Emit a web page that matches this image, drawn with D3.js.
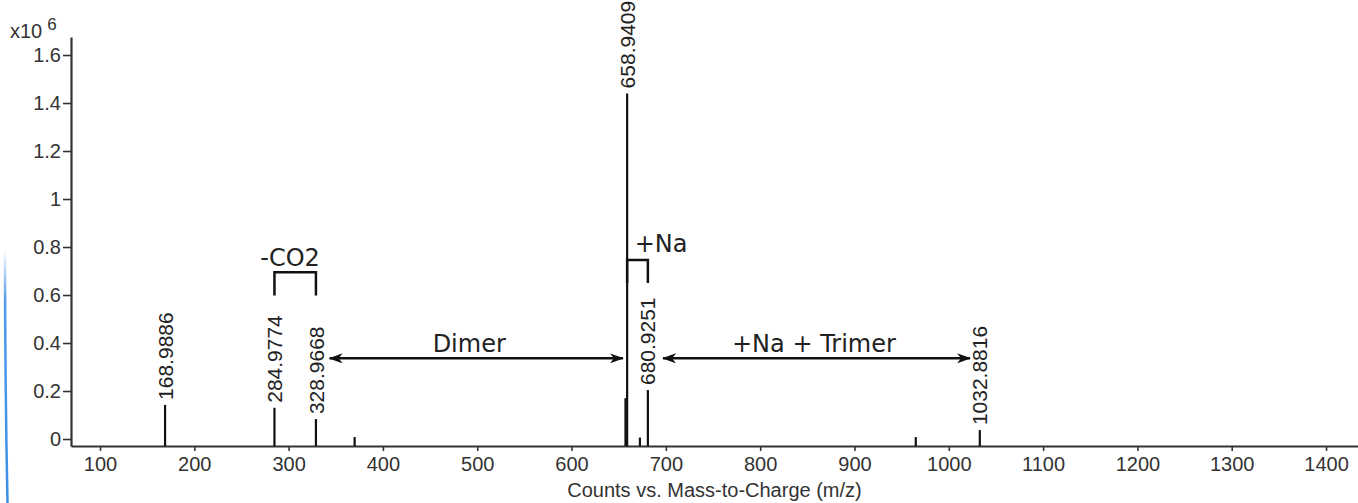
<!DOCTYPE html>
<html>
<head>
<meta charset="utf-8">
<script src="https://cdn.jsdelivr.net/npm/d3@7"></script>
<style>
  body { margin: 0; background: #fff; }
  svg { display: block; }
  .axis text { font-family: "Liberation Sans", Arial, sans-serif; font-size: 20px; fill: #333; }
  .axis path, .axis line { stroke: #333; }
  .peakLabel { font-family: "Liberation Sans", Arial, sans-serif; font-size: 21px; fill: #222; }
  .note { font-family: "DejaVu Sans", sans-serif; font-size: 24px; fill: #222; }
</style>
</head>
<body>
<div class="chart"></div>
<script>
// peaks (m/z, counts x10^6)
const peakMz = [168.9886, 284.9774, 328.9668, 370, 657.2, 658.9409, 672.5, 680.9251, 965, 1032.8816];
const peakCounts = [0.142, 0.13, 0.083, 0.008, 0.17, 1.44, 0.006, 0.204, 0.008, 0.037];
const peakNames = ["168.9886", "284.9774", "328.9668", "", "", "658.9409", "", "680.9251", "", "1032.8816"];

const xTicks = [100, 200, 300, 400, 500, 600, 700, 800, 900, 1000, 1100, 1200, 1300, 1400];
const yTicks = [0, 0.2, 0.4, 0.6, 0.8, 1, 1.2, 1.4, 1.6];

// annotations
const bracketNames = ["-CO2", "+Na"];
const bracketFrom = [284.9774, 658.9409];
const bracketTo = [328.9668, 680.9251];
const bracketTop = [0.695, 0.746];
const bracketLeg = [0.598, 0.65];
const bracketText = [[301.5, 0.72], [695, 0.78]];

const arrowNames = ["Dimer", "+Na + Trimer"];
const arrowFrom = [343.5, 697];
const arrowTo = [654.5, 1022.5];
const arrowLevel = 0.336;
const arrowTextMz = [491.5, 857];

const width = 1358, height = 503;

const svg = d3.select(".chart").append("svg")
  .attr("width", width)
  .attr("height", height);

const xScale = d3.scaleLinear()
  .domain([69.25, 1433.9])
  .range([71, 1358]);

const yScale = d3.scaleLinear()
  .domain([-0.02917, 1.675])
  .range([446, 37]);

const base = yScale.range()[0];

// stray blue edge on the left of the screenshot
const grad = svg.append("defs").append("linearGradient")
  .attr("id", "fade").attr("x1", 0).attr("y1", 0).attr("x2", 0).attr("y2", 1);
grad.append("stop").attr("offset", "0%").attr("stop-color", "#3b8fe8").attr("stop-opacity", 0);
grad.append("stop").attr("offset", "20%").attr("stop-color", "#3b8fe8").attr("stop-opacity", 0.9);
grad.append("stop").attr("offset", "100%").attr("stop-color", "#3b8fe8").attr("stop-opacity", 1);
svg.append("path")
  .attr("d", "M5,250 C5,350 6,430 7.5,503")
  .attr("fill", "none")
  .attr("stroke", "url(#fade)")
  .attr("stroke-width", 2.5);

svg.select("defs").append("marker")
  .attr("id", "head")
  .attr("viewBox", "0 0 14 10")
  .attr("refX", 13).attr("refY", 5)
  .attr("markerWidth", 14).attr("markerHeight", 10)
  .attr("markerUnits", "userSpaceOnUse")
  .attr("orient", "auto-start-reverse")
  .append("path")
  .attr("d", "M0,0 L14,5 L0,10 L4,5 Z")
  .attr("fill", "#111");

// axes
const xAxis = d3.axisBottom(xScale)
  .tickValues(xTicks)
  .tickSize(5)
  .tickSizeOuter(0)
  .tickPadding(6)
  .tickFormat(d3.format("d"));

const yAxis = d3.axisLeft(yScale)
  .tickValues(yTicks)
  .tickSize(8)
  .tickSizeOuter(0)
  .tickPadding(2)
  .tickFormat(d3.format("~g"));

svg.append("g")
  .attr("class", "axis xAxis")
  .attr("transform", "translate(0," + base + ")")
  .call(xAxis)
  .call(g => g.select(".domain").attr("stroke-width", 2.2));

svg.append("g")
  .attr("class", "axis yAxis")
  .attr("transform", "translate(" + xScale.range()[0] + ",0)")
  .call(yAxis)
  .call(g => g.select(".domain").attr("stroke-width", 2.2));

svg.selectAll(".axis .tick line").attr("stroke-width", 1.6);

// axis title and multiplier
svg.append("text")
  .attr("x", (xScale.range()[0] + xScale.range()[1]) / 2)
  .attr("y", 497)
  .attr("text-anchor", "middle")
  .style("font-family", "Liberation Sans, Arial, sans-serif")
  .style("font-size", "20px")
  .style("fill", "#333")
  .text("Counts vs. Mass-to-Charge (m/z)");

const mult = svg.append("text")
  .attr("x", 10)
  .attr("y", 38)
  .style("font-family", "Liberation Sans, Arial, sans-serif")
  .style("font-size", "20px")
  .style("fill", "#333");
mult.append("tspan").text("x10");
mult.append("tspan").attr("dx", 5).attr("dy", -8).style("font-size", "17px").text("6");

// peaks
const peaks = peakMz.map((mz, i) => ({ mz: mz, count: peakCounts[i], name: peakNames[i] }));

svg.selectAll(".peak")
  .data(peaks)
  .enter()
  .append("line")
  .attr("class", "peak")
  .attr("x1", d => xScale(d.mz))
  .attr("x2", d => xScale(d.mz))
  .attr("y1", base)
  .attr("y2", d => yScale(d.count))
  .attr("stroke", "#111")
  .attr("stroke-width", 2.2);

svg.selectAll(".peakLabel")
  .data(peaks.filter(d => d.name))
  .enter()
  .append("text")
  .attr("class", "peakLabel")
  .attr("transform", d => "translate(" + xScale(d.mz) + "," + (yScale(d.count) - 5) + ") rotate(-90)")
  .attr("dy", "0.36em")
  .text(d => d.name);

// brackets
bracketNames.forEach((name, i) => {
  const x0 = xScale(bracketFrom[i]), x1 = xScale(bracketTo[i]);
  const yt = yScale(bracketTop[i]), yl = yScale(bracketLeg[i]);
  svg.append("path")
    .attr("d", "M" + x0 + "," + yl + " L" + x0 + "," + yt + " L" + x1 + "," + yt + " L" + x1 + "," + yl)
    .attr("fill", "none")
    .attr("stroke", "#111")
    .attr("stroke-width", 2.5);
  svg.append("text")
    .attr("class", "note")
    .attr("x", xScale(bracketText[i][0]))
    .attr("y", yScale(bracketText[i][1]))
    .attr("text-anchor", "middle")
    .text(name);
});

// double arrows
arrowNames.forEach((name, i) => {
  const ya = yScale(arrowLevel);
  svg.append("line")
    .attr("x1", xScale(arrowFrom[i]))
    .attr("x2", xScale(arrowTo[i]))
    .attr("y1", ya)
    .attr("y2", ya)
    .attr("stroke", "#111")
    .attr("stroke-width", 2.5)
    .attr("marker-start", "url(#head)")
    .attr("marker-end", "url(#head)");
  svg.append("text")
    .attr("class", "note")
    .attr("x", xScale(arrowTextMz[i]))
    .attr("y", ya - 6)
    .attr("text-anchor", "middle")
    .text(name);
});
</script>
</body>
</html>
